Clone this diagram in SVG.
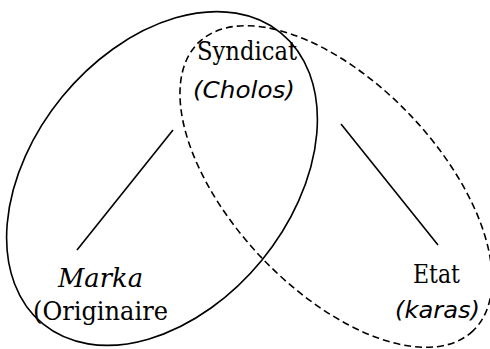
<svg xmlns="http://www.w3.org/2000/svg" width="490" height="349" viewBox="0 0 490 349">
<style>
.c{fill:none;stroke:#000;stroke-width:1.6}
.d{stroke-dasharray:7 4}
.s{font-family:"DejaVu Serif","Liberation Serif",serif;font-size:26px;fill:#000}
.i{font-style:italic}
.n{font-family:"DejaVu Sans","Liberation Sans",sans-serif;font-size:23px}
</style>
<rect width="490" height="349" fill="#fff"/>
<g id="ellipses">
<ellipse id="solid" class="c" cx="162" cy="178.5" rx="188" ry="129" transform="rotate(-50.7 162 178.5)"/>
<ellipse id="dashed" class="c d" cx="336" cy="186.5" rx="199" ry="103" transform="rotate(46.5 336 186.5)"/>
</g>
<g id="connectors">
<line class="c" x1="173" y1="130" x2="77" y2="250"/>
<line class="c" x1="341" y1="124" x2="438" y2="245"/>
</g>
<g id="syndicat">
<text class="s" x="197" y="60" textLength="100" lengthAdjust="spacingAndGlyphs">Syndicat</text>
<text class="s i n" x="193" y="98" textLength="102" lengthAdjust="spacingAndGlyphs">(Cholos)</text>
</g>
<g id="marka">
<text class="s i" x="58" y="287" textLength="85" lengthAdjust="spacingAndGlyphs">Marka</text>
<text class="s" x="33" y="320" textLength="135" lengthAdjust="spacingAndGlyphs">(Originaire</text>
</g>
<g id="etat">
<text class="s" x="413" y="283" textLength="47" lengthAdjust="spacingAndGlyphs">Etat</text>
<text class="s i n" x="395" y="318" textLength="85" lengthAdjust="spacingAndGlyphs">(karas)</text>
</g>
</svg>
